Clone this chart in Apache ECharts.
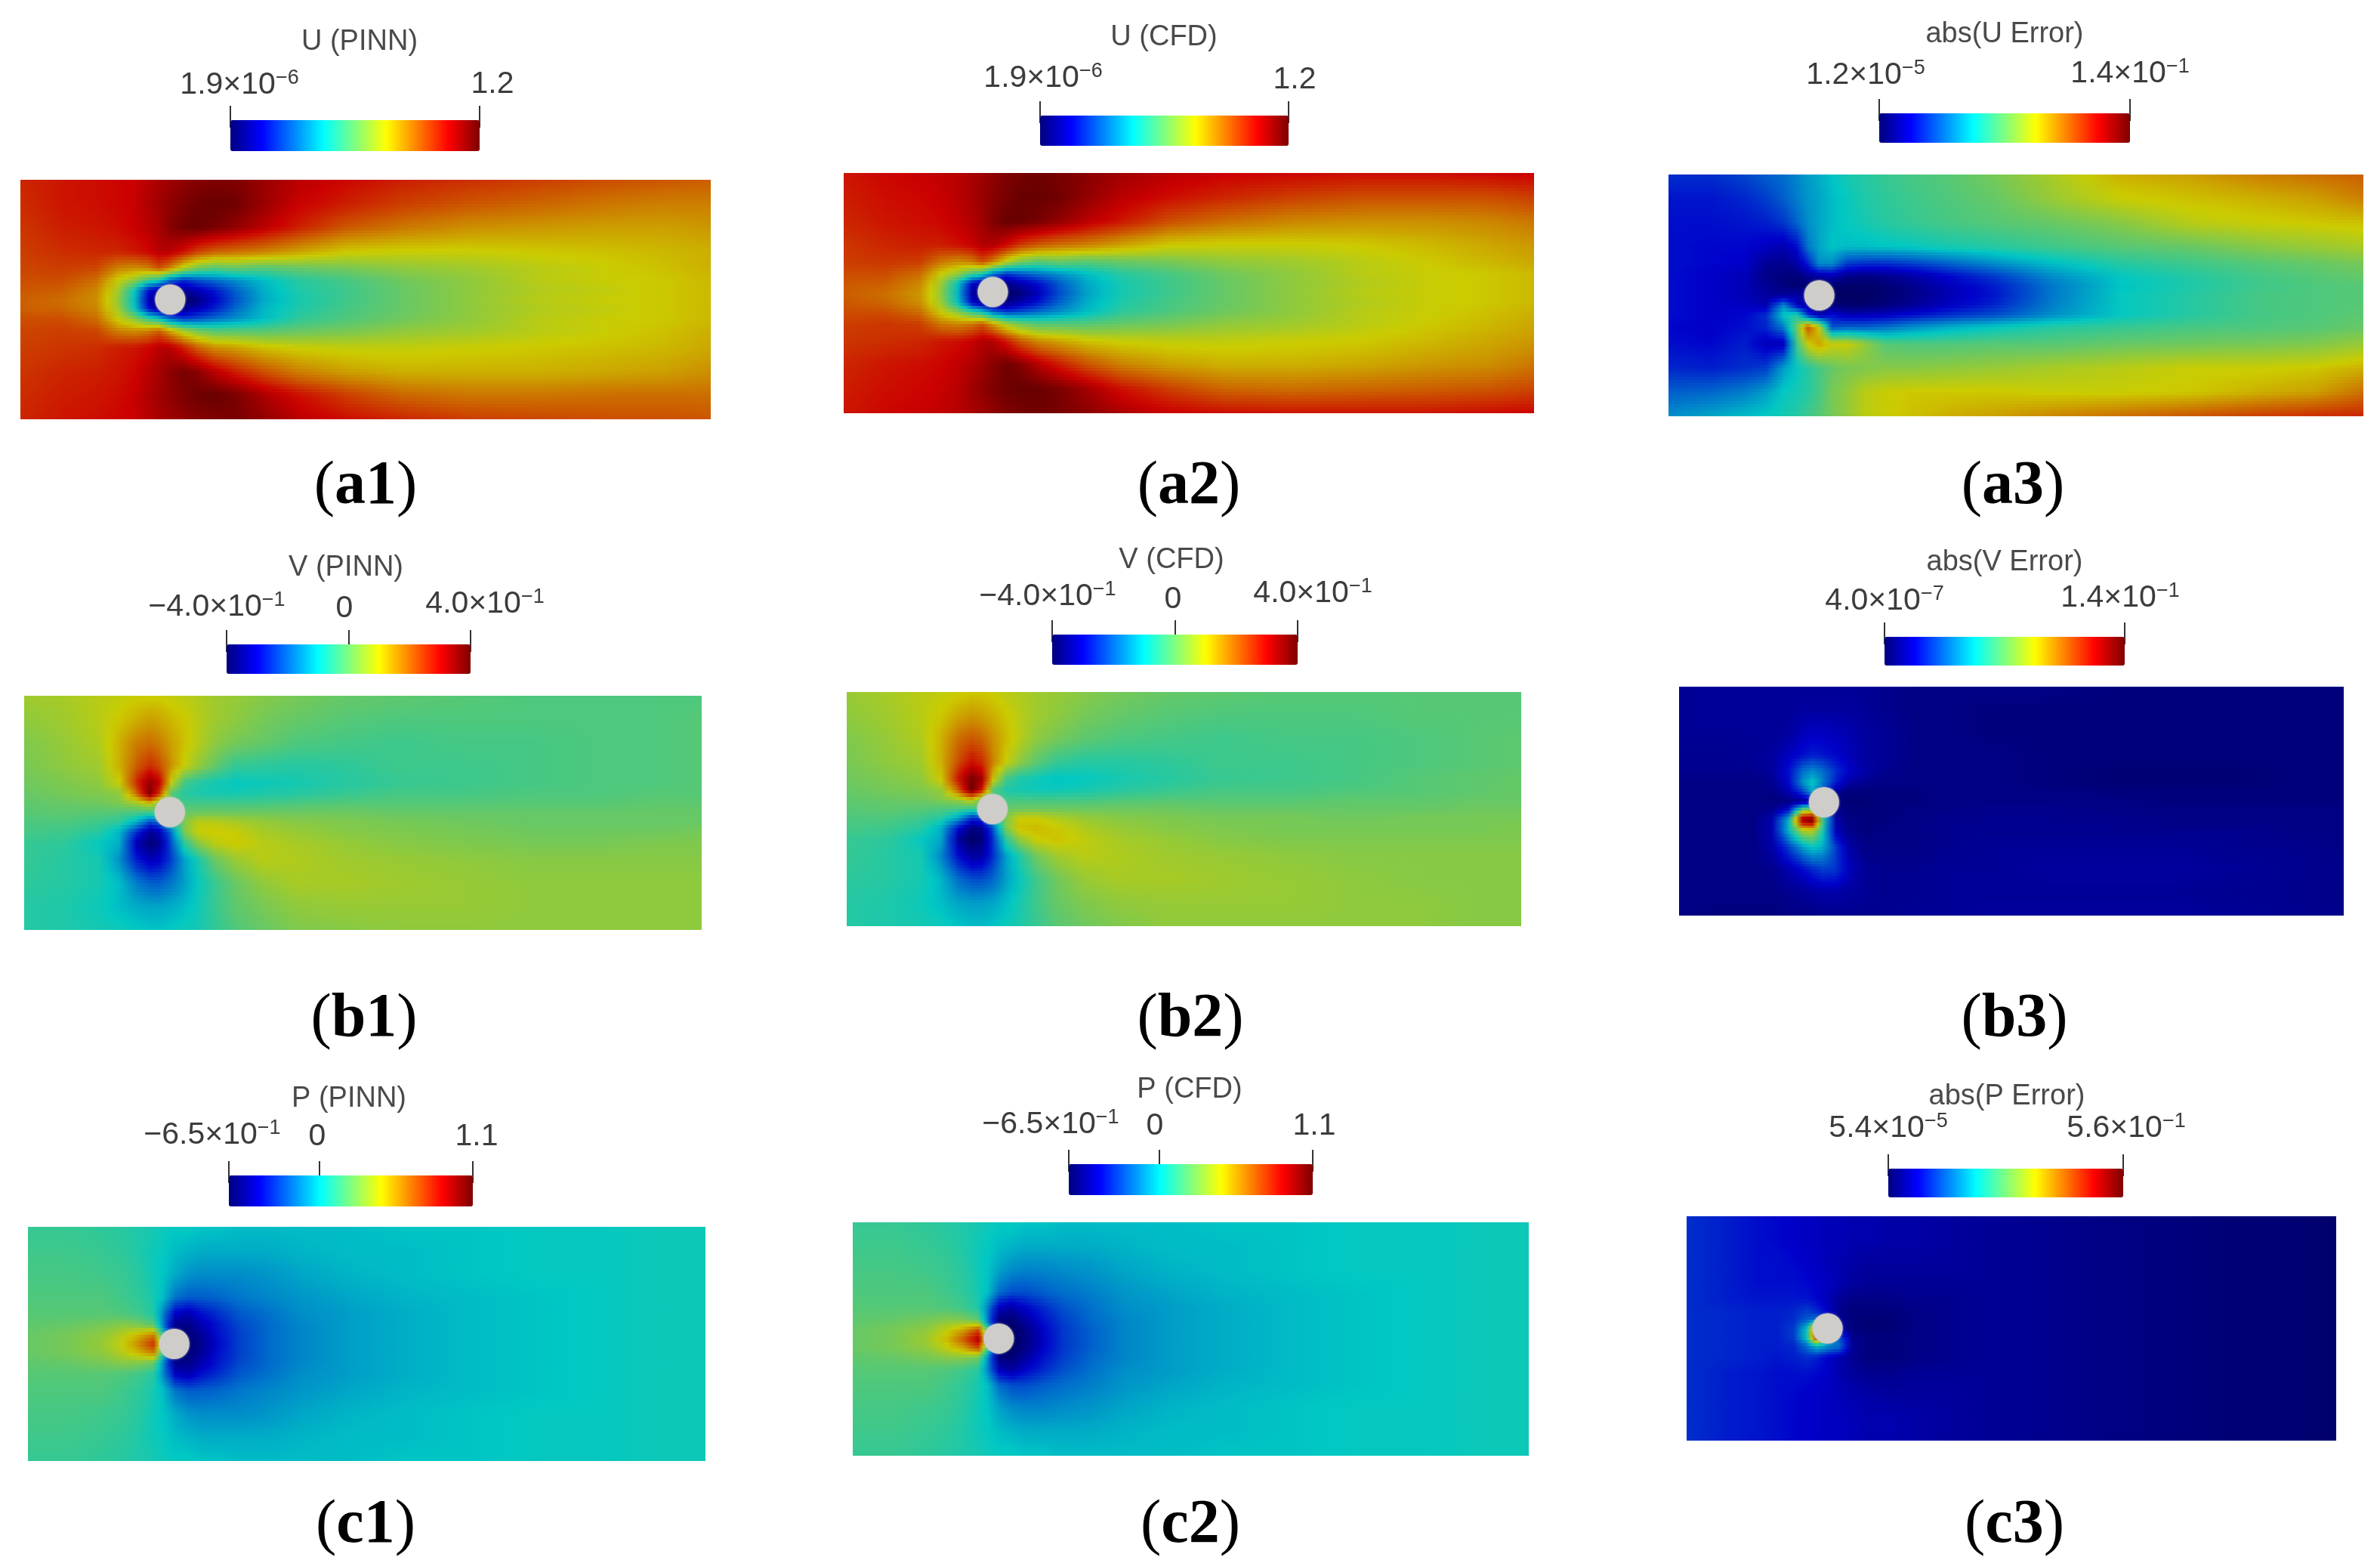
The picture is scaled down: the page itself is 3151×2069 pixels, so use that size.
<!DOCTYPE html>
<html><head><meta charset="utf-8">
<style>html,body{margin:0;padding:0;background:#fff}#c{width:3151px;height:2069px}</style>
<script src="https://cdn.jsdelivr.net/npm/echarts@6/dist/echarts.min.js"></script>
</head><body><div id="c"></div>
<script>
// Sampling lines of each field, in percent of the panel width / height.
const xNodes = [0,6,11,14,16.5,18.5,20,21.6,23.5,25.5,28,31,35,40,47,55,65,75,85,93,100];
const yNodes = [0,10,20,30,37,42,46,50,54,58,63,70,80,90,100];

// Field readings: percent position on each panel's colour bar. One row per yNode, one column per xNode.
const uPinn = [
[83,85,86,87,88,90,92,93,95,96,97,97,94,90,87,84,82,80,78,77,76],
[82,85,86,87,88,91,93,95,97,99,100,99,94,88,84,80,77,75,73,72,72],
[81,84,85,86,88,90,92,96,99,100,98,95,90,84,77,73,70,69,68,68,69],
[80,82,83,83,85,87,90,90,86,80,76,74,72,68,63,62,62,63,64,65,66],
[79,80,79,72,70,72,78,72,60,52,48,50,48,50,52,55,57,60,62,64,66],
[78,78,74,62,55,45,40,26,18,22,26,30,36,42,46,51,55,60,62,63,65],
[77,76,71,58,38,15,8,5,6,10,15,24,34,41,45,50,55,59,61,63,65],
[76,74,70,56,36,10,2,0,0,3,12,22,33,40,45,50,55,60,62,63,65],
[76,75,71,58,38,15,6,3,5,10,16,25,35,41,46,50,55,59,61,63,65],
[78,78,74,62,54,44,38,26,20,22,26,30,36,43,47,51,55,60,62,63,65],
[79,80,79,72,70,72,76,68,58,52,48,48,48,50,52,55,57,60,62,64,66],
[80,81,82,84,85,87,90,90,84,76,70,68,64,62,61,61,62,63,64,65,67],
[81,83,84,85,87,90,92,95,98,96,90,84,78,72,68,66,66,66,67,68,70],
[82,84,85,86,88,91,93,95,97,99,100,98,92,86,80,75,73,73,74,74,74],
[83,85,86,87,88,90,92,93,95,96,97,98,95,90,86,83,80,79,78,78,77]];
const uCfd = [
[85,87,88,89,90,92,93,95,97,98,99,98,96,93,90,88,87,86,86,87,88],
[84,86,87,88,90,92,94,96,98,100,100,99,95,90,86,83,80,78,78,78,80],
[83,85,86,87,89,91,93,97,100,100,98,95,90,85,78,74,71,70,70,71,73],
[81,83,84,84,86,88,91,91,87,81,77,74,72,68,63,62,62,63,65,67,69],
[80,81,80,73,70,72,78,72,60,52,48,50,48,50,52,55,57,60,63,65,67],
[78,78,74,62,55,45,40,26,18,22,26,30,36,42,46,51,55,60,62,63,65],
[77,76,71,57,37,14,7,4,5,9,14,23,33,40,45,50,55,59,62,63,65],
[76,74,69,55,35,8,0,0,0,2,10,21,32,40,45,50,55,60,62,63,65],
[77,75,70,57,37,14,6,3,4,9,15,24,34,41,46,50,55,59,62,63,65],
[78,78,74,62,54,44,38,26,20,22,26,30,36,43,47,51,55,60,62,64,66],
[80,81,80,73,71,73,77,69,58,52,48,48,48,50,52,55,57,60,63,65,67],
[81,82,83,85,86,88,91,91,85,77,71,68,64,62,61,61,62,63,65,67,69],
[83,85,86,87,89,91,93,96,99,97,91,85,78,72,68,66,66,67,69,70,73],
[84,86,87,88,90,93,95,97,99,100,100,98,93,86,80,75,74,75,76,77,79],
[85,87,88,89,90,92,93,95,97,98,99,98,96,92,88,86,85,85,85,86,87]];
const uError = [
[18,18,21,24,26,29,32,34,37,40,42,44,46,48,52,58,66,68,72,74,76],
[15,15,17,20,24,28,31,33,36,38,41,43,45,47,50,56,62,64,66,68,72],
[14,14,15,16,19,25,30,33,36,38,40,42,44,46,48,50,54,60,62,63,64],
[14,13,13,11,9,14,27,33,37,36,36,37,38,40,42,45,48,50,54,56,58],
[14,13,12,6,5,8,16,30,30,20,18,18,20,24,30,36,42,45,48,50,52],
[14,12,10,4,3,3,6,8,10,5,4,5,8,13,20,30,38,42,46,48,50],
[14,12,10,6,3,1,2,0,1,1,1,2,5,10,16,27,37,41,45,47,48],
[14,12,10,7,6,8,8,5,0,0,0,1,4,9,15,27,38,42,46,47,48],
[14,12,11,9,30,10,8,5,3,1,1,3,6,11,17,28,38,42,46,47,48],
[14,12,13,18,38,42,18,8,14,10,10,11,14,18,22,30,38,42,46,47,49],
[13,12,14,17,28,52,78,62,22,24,24,26,30,34,38,42,44,46,47,48,50],
[14,13,16,10,10,46,62,68,62,62,56,48,47,47,48,48,50,51,52,53,56],
[17,16,18,20,32,38,42,46,50,52,53,54,54,55,56,58,60,62,62,63,66],
[24,25,28,32,38,40,42,46,52,55,60,62,63,63,63,62,62,63,66,68,74],
[30,33,36,38,40,42,45,48,52,55,60,62,64,66,68,71,74,77,80,82,83]];
const vPinn = [
[57,58,60,61,62,62,62,61,60,59,57,56,54,52,50,49,48,47,47,47,47],
[55,57,60,63,66,68,67,65,63,60,57,55,52,50,48,47,47,47,47,47,48],
[53,56,59,66,72,74,72,68,64,60,55,52,50,47,46,45,46,46,47,47,48],
[52,55,57,66,76,82,78,70,62,56,50,44,43,42,43,45,45,46,47,47,48],
[51,53,55,62,82,95,88,62,46,42,40,38,39,40,42,44,45,46,47,47,48],
[50,52,53,55,74,98,80,48,42,41,40,40,41,42,44,46,46,47,47,48,48],
[49,50,51,53,56,62,50,48,46,46,46,46,46,47,48,48,48,48,48,49,49],
[48,49,48,47,46,44,48,50,50,51,51,51,51,51,51,50,50,50,50,50,50],
[47,47,45,43,35,22,25,40,53,60,60,58,56,54,53,52,51,50,50,50,50],
[46,45,42,35,18,6,10,26,52,62,63,62,58,56,54,53,52,51,51,51,52],
[44,43,38,34,10,2,6,22,42,54,60,63,60,58,56,54,53,52,52,53,53],
[44,42,40,30,16,10,12,20,32,40,50,56,60,59,57,56,55,54,54,54,54],
[43,42,40,36,28,24,24,27,32,38,44,50,55,58,58,57,56,55,55,55,55],
[42,41,39,36,34,33,33,34,36,39,44,49,52,55,56,56,56,55,55,55,55],
[42,41,40,39,38,37,37,38,39,40,43,47,50,53,54,55,55,55,55,55,55]];
const vCfd = [
[56,58,60,61,62,63,63,62,60,59,57,56,54,52,50,49,48,48,48,48,48],
[55,57,60,63,67,69,68,66,63,60,57,55,52,50,48,47,47,47,48,48,48],
[53,56,59,66,74,77,75,70,65,60,55,52,49,47,46,45,46,46,47,48,49],
[52,55,57,66,78,86,82,72,62,55,49,44,42,42,43,45,45,46,47,48,49],
[51,53,55,63,85,98,92,64,46,41,39,37,38,40,42,44,45,46,48,49,50],
[50,52,53,56,76,100,84,48,41,40,39,39,40,42,44,46,46,47,48,49,50],
[49,50,51,53,56,62,50,48,46,46,46,46,46,47,48,48,48,49,49,50,50],
[48,49,48,47,46,44,48,50,50,51,51,51,51,51,51,50,50,50,50,51,51],
[47,47,45,42,33,18,20,38,53,62,62,59,56,54,53,52,52,51,52,52,52],
[46,45,42,34,14,3,6,22,52,64,65,63,59,56,54,53,52,52,52,52,53],
[44,43,38,33,7,0,3,18,42,55,62,64,61,58,56,54,53,53,53,53,53],
[44,42,40,29,14,7,8,18,32,41,51,57,60,59,57,56,55,54,54,54,54],
[43,42,40,35,26,22,22,25,32,38,45,51,56,58,58,57,56,55,54,54,54],
[42,41,39,36,33,32,32,33,36,40,45,50,53,55,56,56,56,55,55,54,54],
[42,41,40,39,37,36,36,37,39,41,44,48,51,53,55,55,55,55,55,54,54]];
const vError = [
[6,6,6,6,6,6,6,6,6,6,6,5,4,4,4,4,3,3,3,3,3],
[6,6,6,6,6,7,7,7,7,7,6,5,4,4,3,3,3,3,3,3,3],
[6,6,6,6,7,10,11,11,10,9,7,6,4,4,3,3,3,3,3,3,3],
[5,5,6,7,11,14,16,15,13,10,7,6,4,4,4,3,3,3,3,3,3],
[5,5,5,7,14,26,30,26,18,12,8,5,4,4,4,3,2,2,2,3,3],
[4,4,4,5,13,30,38,28,16,8,5,4,4,4,4,3,2,2,2,3,3],
[4,4,4,4,9,20,34,20,6,3,3,3,3,4,4,4,3,3,3,3,3],
[4,4,4,3,3,5,6,4,3,2,2,3,3,4,4,4,4,3,3,3,3],
[4,4,4,5,16,55,60,30,5,3,3,3,4,4,5,5,4,4,4,4,4],
[4,4,4,9,36,95,100,45,8,4,3,3,4,5,5,5,5,4,4,4,4],
[4,4,4,9,36,58,60,40,10,5,3,4,4,5,5,5,5,5,5,4,4],
[4,4,4,8,20,32,38,34,20,8,4,4,4,5,6,6,6,6,5,5,4],
[4,4,4,5,9,13,17,20,19,11,6,5,5,6,6,7,7,7,6,5,5],
[4,4,4,4,5,6,7,8,8,7,6,5,5,6,6,6,6,6,5,5,4],
[4,3,3,3,4,4,4,5,5,5,5,5,6,6,7,7,7,7,6,5,5]];
const pPinn = [
[44,44,43,42,41,40,39,38,38,37,37,36,36,36,36,37,37,38,38,39,39],
[45,45,44,43,41,39,38,36,35,34,34,34,34,35,36,36,37,38,38,39,39],
[46,46,45,44,42,39,37,34,31,30,30,30,31,33,35,36,37,38,38,39,39],
[47,47,47,45,43,40,36,27,24,24,25,27,29,31,33,35,36,37,38,39,39],
[48,48,48,47,45,41,28,12,9,14,18,23,26,30,32,34,36,37,38,39,39],
[49,50,52,54,52,48,27,5,4,9,15,21,25,29,32,34,36,37,38,39,39],
[50,52,55,60,66,72,40,2,2,6,14,20,25,29,32,34,36,37,38,39,39],
[50,52,56,62,72,82,50,2,2,5,13,20,25,29,32,34,36,37,38,39,39],
[50,52,55,60,66,72,40,2,2,6,14,20,25,29,32,34,36,37,38,39,39],
[49,50,52,54,53,50,29,5,4,9,15,21,25,29,32,34,36,37,38,39,39],
[48,48,48,47,45,42,29,12,9,14,18,23,26,30,32,34,36,37,38,39,39],
[47,47,47,45,43,40,36,27,24,24,25,27,29,31,33,35,36,37,38,39,39],
[46,46,45,44,42,39,37,34,31,30,30,30,31,33,35,36,37,38,38,39,39],
[45,45,44,43,41,39,38,36,35,34,34,34,34,35,36,36,37,38,38,39,39],
[44,44,43,42,41,40,39,38,38,37,37,36,36,36,36,37,37,38,38,39,39]];
const pCfd = [
[44,44,43,42,41,40,39,38,38,37,37,36,36,36,36,37,37,38,38,39,39],
[45,45,44,43,41,39,38,36,35,34,34,34,34,35,36,36,37,38,38,39,39],
[46,46,45,44,42,39,37,33,30,29,29,30,31,33,35,36,37,38,38,39,39],
[47,47,47,45,43,40,36,26,22,22,24,26,28,31,33,35,36,37,38,39,39],
[48,48,48,47,45,41,27,10,7,12,17,22,26,30,32,34,36,37,38,39,39],
[49,50,52,54,53,49,26,3,2,7,14,20,25,29,32,34,36,37,38,39,39],
[50,52,55,61,68,78,42,0,0,4,12,19,24,29,32,34,36,37,38,39,39],
[50,52,57,65,78,92,55,0,0,3,11,19,24,29,32,34,36,37,38,39,39],
[50,52,55,61,68,78,42,0,0,4,12,19,24,29,32,34,36,37,38,39,39],
[49,50,52,54,54,51,29,3,2,7,14,20,25,29,32,34,36,37,38,39,39],
[48,48,48,47,45,42,28,10,7,12,17,22,26,30,32,34,36,37,38,39,39],
[47,47,47,45,43,40,36,26,22,22,24,26,28,31,33,35,36,37,38,39,39],
[46,46,45,44,42,39,37,33,30,29,29,30,31,33,35,36,37,38,38,39,39],
[45,45,44,43,41,39,38,36,35,34,34,34,34,35,36,36,37,38,38,39,39],
[44,44,43,42,41,40,39,38,38,37,37,36,36,36,36,37,37,38,38,39,39]];
const pError = [
[18,16,14,13,12,11,11,10,10,9,9,8,8,7,6,5,4,3,2,2,1],
[18,16,14,13,12,11,11,10,10,9,9,8,8,7,6,5,4,3,2,2,1],
[18,16,14,14,13,12,11,10,9,8,7,7,7,7,6,5,4,3,2,2,1],
[18,16,14,14,14,13,12,11,9,7,6,6,6,6,6,5,4,3,2,2,1],
[18,16,15,15,15,15,13,10,6,4,4,4,5,5,6,5,4,3,2,2,1],
[18,17,16,16,17,20,17,12,5,3,3,3,4,5,6,5,4,3,2,2,1],
[18,17,16,16,18,24,26,10,6,3,2,2,4,5,6,5,4,3,2,2,1],
[18,17,16,16,20,38,88,30,8,3,2,2,4,5,6,5,4,3,2,2,1],
[18,17,16,16,20,40,90,30,22,5,3,3,4,5,6,5,4,3,2,2,1],
[18,17,16,16,17,26,36,30,26,6,3,3,4,5,6,5,4,3,2,2,1],
[18,17,16,15,16,18,16,12,9,5,3,3,4,5,6,5,4,3,2,2,1],
[18,16,15,14,14,14,13,12,9,7,5,5,6,6,6,5,4,3,2,2,1],
[18,16,15,14,13,12,12,11,10,9,8,7,7,7,6,5,4,3,2,2,1],
[18,16,15,14,13,12,12,11,11,10,9,9,8,7,6,5,4,3,2,2,1],
[18,16,15,14,13,12,12,11,11,10,9,9,8,7,6,5,4,3,2,2,1]];

// Cylinder centres, percent of panel width / height.
const cylinderCentres = [[21.7,50],[21.6,49.5],[21.7,50],[21.5,49.7],[21.6,50],[21.8,50.5],[21.6,50],[21.6,49.8],[21.7,50]];

// Colour bar scales.
const barMins = [1.9e-6,1.9e-6,1.2e-5,-0.4,-0.4,4.0e-7,-0.65,-0.65,5.4e-5];
const barMaxs = [1.2,1.2,0.14,0.4,0.4,0.14,1.1,1.1,0.56];
const barTicks = [[1.9e-6,1.2],[1.9e-6,1.2],[1.2e-5,0.14],[-0.4,0,0.4],[-0.4,0,0.4],[4.0e-7,0.14],[-0.65,0,1.1],[-0.65,0,1.1],[5.4e-5,0.56]];

// Text.
const fieldTitles = ['U (PINN)','U (CFD)','abs(U Error)','V (PINN)','V (CFD)','abs(V Error)','P (PINN)','P (CFD)','abs(P Error)'];
const panelNames = ['a1','a2','a3','b1','b2','b3','c1','c2','c3'];
const tickTexts = [
 [['1.9×10','−6'],['1.2','']],[['1.9×10','−6'],['1.2','']],[['1.2×10','−5'],['1.4×10','−1']],
 [['−4.0×10','−1'],['0',''],['4.0×10','−1']],[['−4.0×10','−1'],['0',''],['4.0×10','−1']],[['4.0×10','−7'],['1.4×10','−1']],
 [['−6.5×10','−1'],['0',''],['1.1','']],[['−6.5×10','−1'],['0',''],['1.1','']],[['5.4×10','−5'],['5.6×10','−1']]];

// Layout in page pixels: [left, top, right, bottom].
const fieldBoxes = [[27,238,941,555],[1117,229,2031,547],[2209,231,3129,551],[32,921,929,1231],[1121,916,2014,1226],[2223,909,3103,1212],[37,1624,934,1934],[1129,1618,2024,1927],[2233,1610,3093,1907]];
const barBoxes = [[305,159,635,200],[1377,153,1706,193],[2488,150,2820,189],[300,853,623,892],[1393,840,1718,880],[2495,843,2813,881],[303,1556,626,1597],[1415,1541,1738,1582],[2500,1547,2811,1585]];
const titleAt = [[476,56],[1541,50],[2654,46],[458,752],[1551,742],[2654,745],[462,1455],[1575,1443],[2657,1452]];
const tickTextAt = [
 [[317,113],[652,112]],[[1381,104],[1714,106]],[[2470,100],[2820,98]],
 [[287,804],[456,806],[642,800]],[[1387,790],[1553,794],[1738,786]],[[2495,796],[2807,792]],
 [[281,1503],[420,1505],[631,1505]],[[1391,1489],[1529,1491],[1740,1491]],[[2500,1494],[2815,1494]]];
const panelNameAt = [[484,645],[1574,645],[2665,645],[482,1350],[1576,1350],[2667,1350],[484,2020],[1576,2020],[2667,2020]];

const fields = [uPinn,uCfd,uError,vPinn,vCfd,vError,pPinn,pCfd,pError];
const jet = ['#00007f','#0000ff','#0080ff','#00ffff','#80ff80','#ffff00','#ff8000','#ff0000','#7f0000'];
const fieldJet = ['#000064','#0000cc','#0066cc','#00c8c4','#66c866','#cccc00','#cc6600','#cc0000','#680000'];
const shade = v => echarts.color.lerp(Math.max(0,Math.min(1,v/100)), fieldJet);
const mix = (a,b,t) => a+(b-a)*t;

function cellItem(api){
  const tl = api.coord([api.value(0),api.value(1)]);
  const br = api.coord([api.value(2),api.value(3)]);
  const a=api.value(4),b=api.value(5),c=api.value(6),d=api.value(7);
  const x0=Math.round(tl[0]),x1=Math.round(br[0]),y0=Math.round(tl[1]),y1=Math.round(br[1]);
  const n=Math.max(1,Math.round((y1-y0)/4));
  const kids=[];
  for(let k=0;k<n;k++){
    const t=(k+0.5)/n;
    const L=mix(a,c,t),R=mix(b,d,t);
    const ya=Math.round(mix(y0,y1,k/n)),yb=Math.round(mix(y0,y1,(k+1)/n));
    kids.push({type:'rect',silent:true,
      shape:{x:x0,y:ya,width:x1-x0+1,height:yb-ya+1},
      style:{fill:new echarts.graphic.LinearGradient(0,0,1,0,[
        {offset:0,color:shade(L)},{offset:.5,color:shade((L+R)/2)},{offset:1,color:shade(R)}])}});
  }
  return {type:'group',children:kids};
}

const grid=[],xAxis=[],yAxis=[],series=[],visualMap=[],title=[],graphicEls=[];
fields.forEach((f,i)=>{
  const box=fieldBoxes[i],bar=barBoxes[i];
  grid.push({left:box[0],top:box[1],width:box[2]-box[0],height:box[3]-box[1]});
  xAxis.push({gridIndex:i,type:'value',min:0,max:100,show:false});
  yAxis.push({gridIndex:i,type:'value',min:0,max:100,inverse:true,show:false});
  const cells=[];
  for(let r=0;r<yNodes.length-1;r++)for(let q=0;q<xNodes.length-1;q++)
    cells.push([xNodes[q],yNodes[r],xNodes[q+1],yNodes[r+1],f[r][q],f[r][q+1],f[r+1][q],f[r+1][q+1]]);
  series.push({type:'custom',name:fieldTitles[i],xAxisIndex:i,yAxisIndex:i,data:cells,renderItem:(p,api)=>cellItem(api),
    encode:{x:[0,2],y:[1,3]},clip:true,silent:true,animation:false,z:2});
  series.push({type:'scatter',xAxisIndex:i,yAxisIndex:i,data:[cylinderCentres[i]],symbol:'circle',symbolSize:40,
    itemStyle:{color:'#cfcdc9',opacity:1,shadowBlur:3,shadowColor:'rgba(207,205,201,0.9)'},silent:true,animation:false,z:3});
  visualMap.push({type:'continuous',seriesIndex:2*i,dimension:4,min:0,max:100,inRange:{color:jet},orient:'horizontal',
    left:bar[0],top:bar[1],itemWidth:bar[3]-bar[1],itemHeight:bar[2]-bar[0],padding:0,calculable:false,hoverLink:false,text:null,showLabel:false});
  title.push({text:fieldTitles[i],left:titleAt[i][0],top:titleAt[i][1],textAlign:'center',textVerticalAlign:'middle',padding:0,
    textStyle:{fontFamily:'Liberation Sans',fontWeight:'normal',fontSize:38,color:'#4a4a4a'}});
  title.push({text:'{p|(}{b|'+panelNames[i]+'}{p|)}',left:panelNameAt[i][0],top:panelNameAt[i][1],textAlign:'center',textVerticalAlign:'middle',padding:0,
    textStyle:{fontWeight:'normal',rich:{p:{fontFamily:'Liberation Serif',fontWeight:'normal',fontSize:82,color:'#000'},b:{fontFamily:'Liberation Serif',fontWeight:'bold',fontSize:82,color:'#000'}}}});
  tickTexts[i].forEach((t,j)=>{
    graphicEls.push({type:'text',x:tickTextAt[i][j][0],y:tickTextAt[i][j][1],silent:true,
      style:{text:t[1]?'{n|'+t[0]+'}{s|'+t[1]+'}':'{n|'+t[0]+'}',align:'center',verticalAlign:'middle',
        rich:{n:{fontFamily:'Liberation Sans',fontSize:41,lineHeight:46,fill:'#3c3c3c',color:'#3c3c3c'},
              s:{fontFamily:'Liberation Sans',fontSize:27,lineHeight:27,verticalAlign:'top',fill:'#3c3c3c',color:'#3c3c3c'}}}});
  });
});
fields.forEach((f,i)=>{
  const bar=barBoxes[i],k=9+i;
  grid.push({left:bar[0],top:bar[1]+9,width:bar[2]-bar[0],height:1});
  xAxis.push({gridIndex:k,type:'value',position:'top',min:barMins[i],max:barMaxs[i],
    axisLine:{show:false},splitLine:{show:false},axisLabel:{show:false},
    axisTick:{show:true,customValues:barTicks[i],length:29,lineStyle:{color:'#333',width:2}}});
  yAxis.push({gridIndex:k,type:'value',min:0,max:1,show:false});
});

const chart=echarts.init(document.getElementById('c'),null,{renderer:'canvas'});
chart.setOption({backgroundColor:'#fff',animation:false,grid,xAxis,yAxis,series,visualMap,title,graphic:{elements:graphicEls}});
</script></body></html>
